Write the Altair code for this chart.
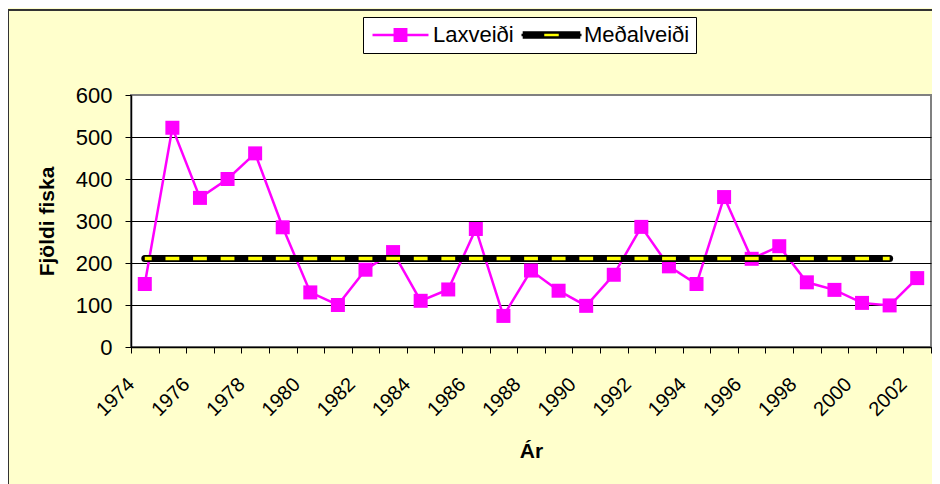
import altair as alt
import pandas as pd

# ---- data ----
years = list(range(1974, 2003))
laxveidi = [150, 522, 355, 400, 461, 285, 130, 100, 184, 226, 110, 137, 281, 74,
            182, 134, 98, 172, 286, 192, 150, 357, 210, 240, 154, 136, 105, 99, 164]
mean_years = list(range(1974, 2002))
medalveidi = [211] * len(mean_years)
series_names = ["Laxveiði", "Meðalveiði"]
y_ticks = [0, 100, 200, 300, 400, 500, 600]
x_ticks = [y - 0.5 for y in years] + [years[-1] + 0.5]

lax_df = pd.DataFrame({"year": years, "value": laxveidi, "series": series_names[0]})
mean_df = pd.DataFrame({"year": mean_years, "value": medalveidi, "series": series_names[1]})
all_df = pd.concat([lax_df, mean_df], ignore_index=True)

FONT = "Liberation Sans"
MAGENTA = "#FF00FF"
YELLOW = "#FFFF00"

x_enc = alt.X(
    "year:Q",
    scale=alt.Scale(domain=[x_ticks[0], x_ticks[-1]], nice=False, zero=False),
    axis=alt.Axis(
        values=x_ticks,
        labelExpr="(datum.value + 0.5) % 2 == 0 ? toString(datum.value + 0.5) : ''",
        labelAngle=-45, labelAlign="right", labelBaseline="middle",
        labelPadding=28, labelFlush=False, labelOverlap=False,
        labelFontSize=20, tickSize=6, grid=False,
        title="Ár", titleFontSize=21, titleFontWeight="bold",
        titleY=110, titleBaseline="alphabetic",
    ),
)
y_enc = alt.Y(
    "value:Q",
    scale=alt.Scale(domain=[0, 600], nice=False),
    axis=alt.Axis(
        values=y_ticks, tickSize=6, labelPadding=13, labelFontSize=22,
        grid=True,
        gridColor={"condition": {"test": "datum.value == 600", "value": "transparent"},
                   "value": "black"},
        title="Fjöldi fiska", titleFontSize=21, titleFontWeight="bold",
        titleX=-78, titleBaseline="alphabetic",
    ),
)

frame = alt.Chart(pd.DataFrame({"f": [0]})).mark_rect(
    fillOpacity=0, stroke="#333333", strokeWidth=2
).encode(x=alt.value(-123), x2=alt.value(1000), y=alt.value(-85), y2=alt.value(700))

lax_line = alt.Chart(lax_df).mark_line(color=MAGENTA, strokeWidth=2.5).encode(x=x_enc, y=y_enc)
lax_pts = alt.Chart(lax_df).mark_point(
    shape="square", filled=True, size=196, color=MAGENTA, opacity=1
).encode(x=x_enc, y=y_enc)
mean_black = alt.Chart(mean_df).mark_line(
    color="black", strokeWidth=7, strokeCap="round"
).encode(x=x_enc, y=y_enc)
mean_yellow = alt.Chart(mean_df).mark_line(
    color=YELLOW, strokeWidth=3.5, strokeDash=[13.8, 13.79], strokeDashOffset=6.9
).encode(x=x_enc, y=y_enc)

# legend symbols (unit paths, scaled by symbol size)
lax_symbol = "M-0.933,0H0.933M-0.19,-0.19H0.19V0.19H-0.19Z"
mean_symbol = ("M-0.283,-0.083H0.283V0.083H-0.283Z"
               "M-0.96,-0.083H-0.283M0.283,-0.083H0.96"
               "M-0.96,0.083H-0.283M0.283,0.083H0.96"
               "M-1,0H-0.283M0.283,0H1")

leg = alt.Legend(title=None, orient="none", legendX=232, legendY=-78, direction="horizontal")
legend_layer = alt.Chart(all_df).transform_filter("false").mark_point(
    filled=True, opacity=1, strokeWidth=2.5
).encode(
    x=x_enc, y=y_enc,
    fill=alt.Fill("series:N", scale=alt.Scale(domain=series_names, range=[MAGENTA, YELLOW]), legend=leg),
    stroke=alt.Stroke("series:N", scale=alt.Scale(domain=series_names, range=[MAGENTA, "black"]), legend=leg),
    shape=alt.Shape("series:N", scale=alt.Scale(domain=series_names, range=[lax_symbol, mean_symbol]), legend=leg),
)

chart = alt.layer(frame, lax_line, lax_pts, mean_black, mean_yellow, legend_layer).properties(
    width=800, height=252,
    background="#FFFFCC",
    autosize=alt.AutoSizeParams(type="none"),
    padding={"left": 123, "top": 87, "right": 1, "bottom": 137},
).configure_view(
    fill="white", stroke="#808080", strokeWidth=2
).configure_axis(
    labelFont=FONT, titleFont=FONT, labelColor="black", titleColor="black",
    domainColor="black", domainWidth=1.5, tickColor="black", tickWidth=1,
).configure_legend(
    labelFont=FONT, labelFontSize=22, labelColor="black",
    padding=6, strokeColor="black", fillColor="white",
    symbolSize=3600, symbolStrokeWidth=2.5, labelOffset=1, columnPadding=6,
    clipHeight=24, cornerRadius=0,
)

chart.save("out.html", embed_options={"renderer": "svg", "actions": False})
